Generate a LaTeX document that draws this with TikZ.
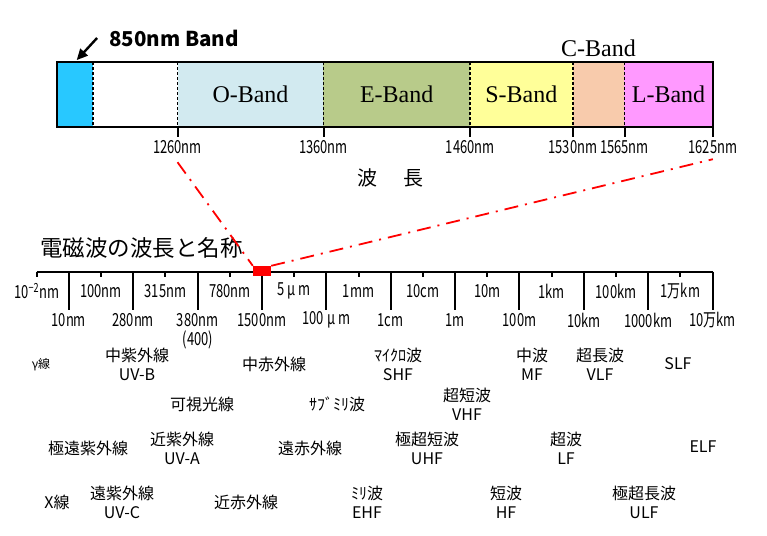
\documentclass[tikz,border=0pt]{standalone}
\usepackage{fontspec}
\setmainfont{Liberation Serif}
\newfontfamily\jpfont{Noto Sans CJK JP}
\newfontfamily\narrowfont[FakeStretch=0.72]{Noto Sans CJK JP}
\usetikzlibrary{arrows.meta,positioning}
\definecolor{nmblue}{RGB}{40,200,255}
\definecolor{oblue}{RGB}{210,234,240}
\definecolor{egreen}{RGB}{184,203,138}
\definecolor{syellow}{RGB}{255,255,153}
\definecolor{cpeach}{RGB}{248,203,172}
\definecolor{lpink}{RGB}{255,153,255}
\tikzset{
  bandbox/.style={rectangle,inner sep=0pt,minimum height=64.4pt,font=\fontsize{24}{28}\selectfont},
  divline/.style={densely dashed,line width=1.6pt},
  tickline/.style={line width=2pt},
  axisline/.style={line width=2pt},
  ticklab/.style={inner sep=1pt,font=\narrowfont\fontsize{18}{20}\selectfont},
  namelab/.style={inner sep=1pt,align=center,font=\jpfont\fontsize{16}{19}\selectfont},
  zoomline/.style={red,line width=1.8pt,dash pattern=on 14pt off 7pt on 2pt off 7pt},
  markbox/.style={rectangle,fill=red,inner sep=0pt,minimum width=18pt,minimum height=10pt},
  bigarr/.style={-{Triangle[length=11pt,width=10pt]},line width=2.4pt}
}

\begin{document}
\begin{tikzpicture}[x=1pt,y=-1pt]
  \useasboundingbox (0,0) rectangle (767,535);

  %% optical bands
  \node[bandbox,fill=nmblue,minimum width=36pt] (blue) at (74.7,94.5) {};
  \node[bandbox,fill=oblue,minimum width=145.6pt] (oband) at (250.5,94.5) {O-Band};
  \node[bandbox,fill=egreen,minimum width=146.7pt] (eband) at (396.65,94.5) {E-Band};
  \node[bandbox,fill=syellow,minimum width=102.7pt] (sband) at (521.35,94.5) {S-Band};
  \node[bandbox,fill=cpeach,minimum width=51.6pt] (cband) at (598.5,94.5) {};
  \node[bandbox,fill=lpink,minimum width=88.4pt] (lband) at (668.5,94.5) {L-Band};
  \draw[line width=2pt] (blue.north west) rectangle (lband.south east);
  \foreach \a in {blue.east,oband.west,oband.east,eband.east,sband.east,cband.east}
    \draw[divline] (\a |- blue.north) -- (\a |- blue.south);

  \node[font=\fontsize{24}{28}\selectfont,inner sep=0pt] (clab) at (598.5,48) {C-Band};
  \node[font=\jpfont\bfseries\fontsize{20.5}{24}\selectfont,inner sep=0pt] (lab850) at (174,38) {850nm Band};
  \draw[bigarr] ([xshift=-12pt]lab850.west) -- ([xshift=2pt,yshift=2pt]blue.north);

  \foreach \n/\a/\lab in {oband/south west/1260,oband/south east/1360,eband/south east/1460,
                          sband/south east/1530,cband/south east/1565,lband/south east/1625}
    \draw[tickline] (\n.\a) -- ++(0,10) node[ticklab,anchor=north,yshift=-2pt] (w\lab) {\lab nm};

  \node[font=\jpfont\fontsize{20}{24}\selectfont] (hacho) at (390.5,178) {波\hspace{26pt}長};

  %% spectrum scale
  \node[font=\jpfont\fontsize{22.5}{26}\selectfont,inner sep=0pt] (title) at (141.5,248) {電磁波の波長と名称};
  \draw[axisline] (36.6,271.7) -- (712.6,271.7);
  \foreach \lab [count=\i from 0] in {10\textsuperscript{−2}nm,100nm,315nm,780nm,5\,μ\,m,1mm,
                                      10cm,10m,1km,100km,1万km}{
    \draw[tickline] (36.6+64.38*\i,271.7) -- ++(0,5);
    \node[ticklab] (up\i) at (36.6+64.38*\i,291) {\lab};
  }
  \foreach \lab [count=\i from 0] in {10nm,280nm,380nm,1500nm,100\,μ\,m,1cm,
                                      1m,100m,10km,1000km,10万km}{
    \draw[tickline] (68.8+64.38*\i,271.7) -- ++(0,38);
    \node[ticklab] (lo\i) at (68.8+64.38*\i,320) {\lab};
  }
  \node[ticklab] (p400) at (198,340) {(400)};

  \node[markbox] (mark) at (262,271) {};
  \draw[zoomline] ([yshift=-6pt]w1260.south) -- (mark.north west);
  \draw[zoomline] (mark.north east) -- ([yshift=-3pt]w1625.south);

  %% names
  \node[namelab,font=\jpfont\fontsize{12}{14}\selectfont] (gam) at (41,365) {γ線};
  \foreach \nm/\x/\y/\txt in {uvb/137/364.5/中紫外線\\UV-B, mir/274/364/中赤外線,
      shf/398/364/ﾏｲｸﾛ波\\SHF, mf/532/364/中波\\MF, vlf/600/364/超長波\\VLF, slf/678/364/SLF,
      vis/202/404/可視光線, submm/337/404/ｻﾌﾞﾐﾘ波, vhf/467/404.5/超短波\\VHF,
      euv/88/448/極遠紫外線, uva/182/448/近紫外線\\UV-A, fir/310/448/遠赤外線,
      uhf/427/448/極超短波\\UHF, lf/566/448/超波\\LF, elf/703/447/ELF,
      xray/57/502/X線, uvc/122/502/遠紫外線\\UV-C, nir/246/502/近赤外線,
      ehf/367/502/ﾐﾘ波\\EHF, hf/506/502/短波\\HF, ulf/644/502/極超長波\\ULF}
    \node[namelab] (\nm) at (\x,\y) {\txt};
\end{tikzpicture}
\end{document}
